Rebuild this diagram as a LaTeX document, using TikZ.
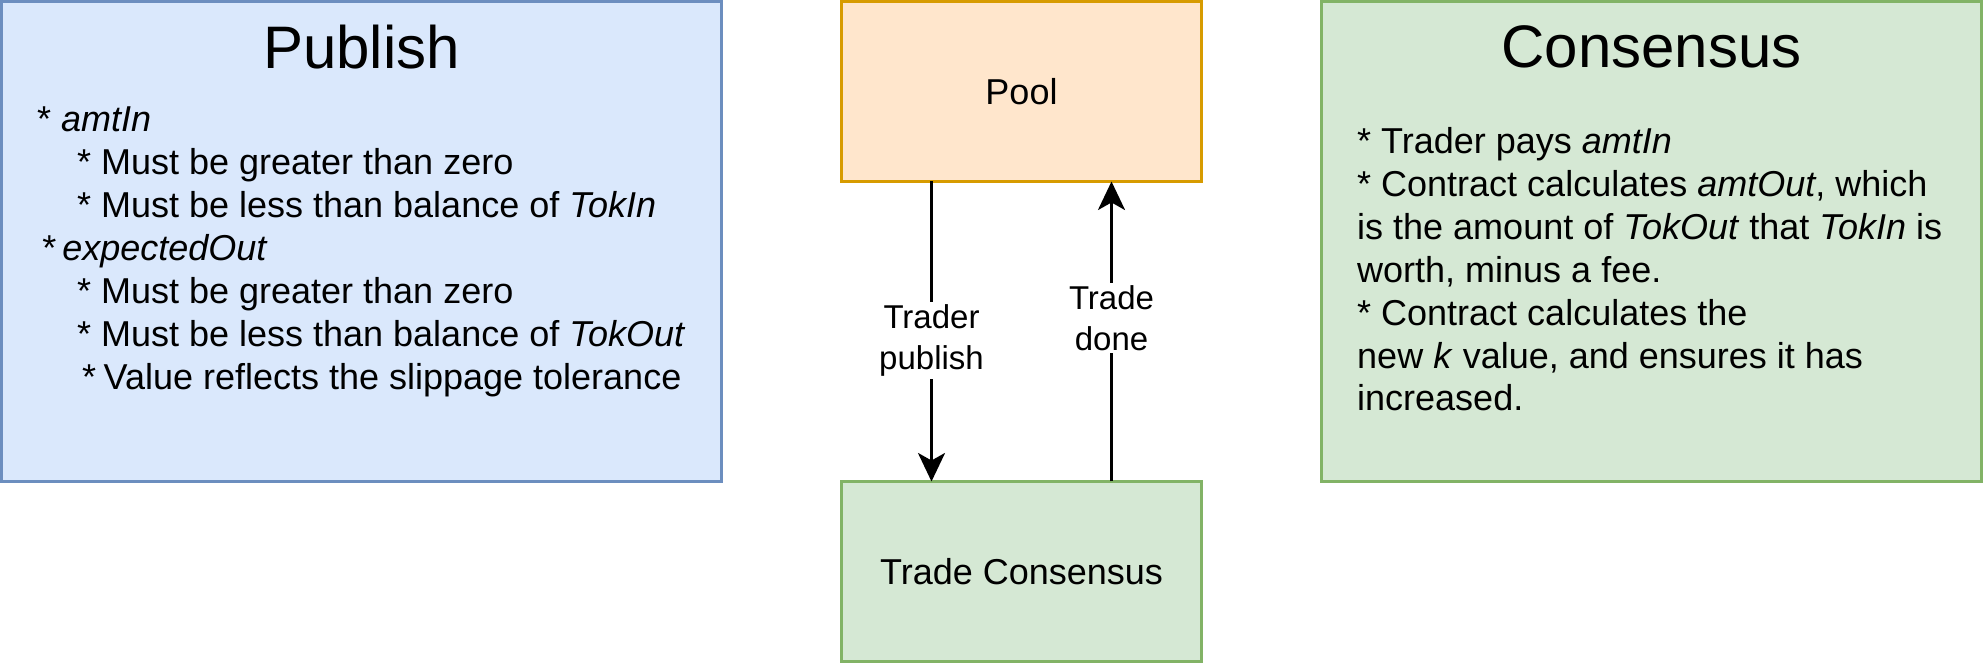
\documentclass[tikz,border=0pt]{standalone}
\usepackage{fontspec}
\setmainfont{Liberation Sans}
\usepackage{tikz}
\usetikzlibrary{arrows.meta,positioning}
\definecolor{bluefill}{HTML}{DAE8FC}
\definecolor{blueline}{HTML}{6C8EBF}
\definecolor{orangefill}{HTML}{FFE6CC}
\definecolor{orangeline}{HTML}{D79B00}
\definecolor{greenfill}{HTML}{D5E8D4}
\definecolor{greenline}{HTML}{82B366}
\tikzset{box/.style={draw,line width=1pt,rectangle,outer sep=0pt,inner sep=0pt,font=\fontsize{12}{14.4}\selectfont}}
\tikzset{boxtitle/.style={font=\fontsize{20}{24}\selectfont,anchor=base,inner sep=0pt}}
\tikzset{boxbody/.style={font=\fontsize{12}{14.3}\selectfont,align=left,anchor=north west,inner sep=0pt}}
\tikzset{flow/.style={-{Stealth[length=9.5pt,width=9pt,inset=2.5pt]},line width=1pt}}
\tikzset{flowlabel/.style={fill=white,font=\fontsize{11}{13.5}\selectfont,align=center,inner sep=1pt}}

\begin{document}
\begin{tikzpicture}[x=1pt,y=1pt]
	\useasboundingbox (0,0) rectangle (661,-221);
	\node[box,fill=bluefill,draw=blueline,minimum width=240pt,minimum height=160pt] (pub) at (120.5,-80.5) {};
	\node[box,fill=orangefill,draw=orangeline,minimum width=120pt,minimum height=60pt] (pool) at (340.5,-30.5) {Pool};
	\node[box,fill=greenfill,draw=greenline,minimum width=120pt,minimum height=60pt] (tc) at (340.5,-190.5) {Trade Consensus};
	\node[box,fill=greenfill,draw=greenline,minimum width=220pt,minimum height=160pt] (cons) at (550.5,-80.5) {};
	\node[boxtitle] (pubtitle) at ([yshift=-22.2pt]pub.north) {Publish};
	\node[boxtitle] (constitle) at ([yshift=-22pt]cons.north) {Consensus};
	\node[boxbody] (pubtext) at ([xshift=11.7pt,yshift=-35pt]pub.north west) {%
		* \textit{amtIn}\\
		\hspace*{13.3pt}* Must be greater than zero\\
		\hspace*{13.3pt}* Must be less than balance of \textit{TokIn}\\
		\hspace*{1.7pt}*\hspace{2pt}\textit{expectedOut}\\
		\hspace*{13.3pt}* Must be greater than zero\\
		\hspace*{13.3pt}* Must be less than balance of \textit{TokOut}\\
		\hspace*{15pt}*\hspace{2.5pt}Value reflects the slippage tolerance};
	\node[boxbody] (constext) at ([xshift=11.7pt,yshift=-41.8pt]cons.north west) {%
		* Trader pays \textit{amtIn}\\
		* Contract calculates \textit{amtOut}, which\\
		is the amount of \textit{TokOut} that \textit{TokIn} is\\
		worth, minus a fee.\\
		* Contract calculates the\\
		new \textit{k} value, and ensures it has\\
		increased.};
	\draw[flow] ([xshift=-30pt]pool.south) -- ([xshift=-30pt]tc.north) node[flowlabel,pos=0.53] {Trader\\publish};
	\draw[flow] ([xshift=30pt]tc.north) -- ([xshift=30pt]pool.south) node[flowlabel,pos=0.545] {Trade\\done};
\end{tikzpicture}
\end{document}
